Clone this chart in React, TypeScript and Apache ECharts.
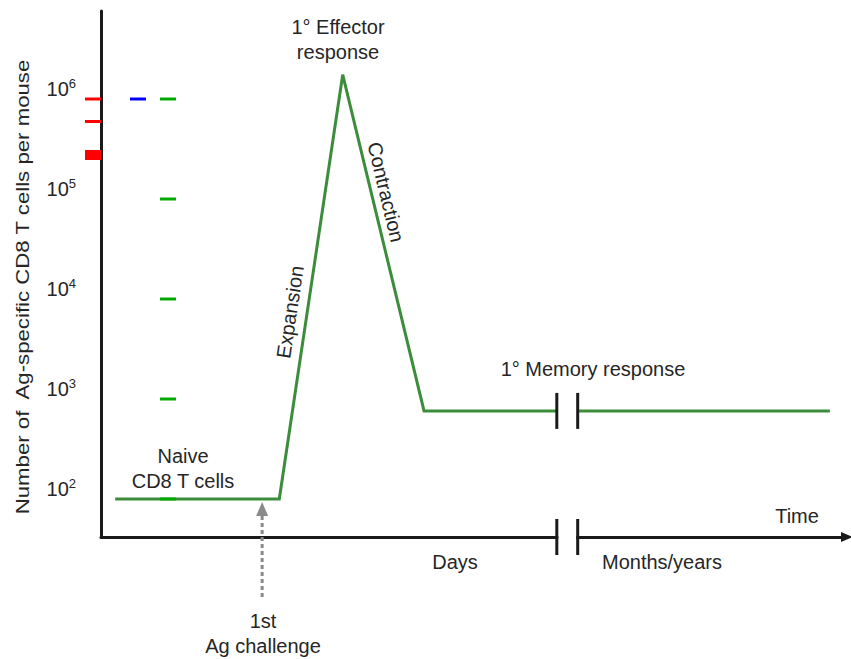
import React, { useEffect, useRef } from 'react';
import * as echarts from 'echarts';

// Time positions (arbitrary time units along the x axis)
const primaryTimes = [1.9, 23.9, 32.4, 43.3, 61.1];
const primaryCounts = [100, 100, 1.75e6, 760, 760];
const memoryTimes = [63.9, 97.7];
const memoryCounts = [760, 760];
const yTickExponents = [2, 3, 4, 5, 6];
const breakTimes = [61.1, 63.9];
const challengeTime = 21.6;
const memoryLevel = 760;

const FONT = "'Liberation Sans', Arial, Helvetica, sans-serif";
const TXT = '#262626';
const AX = '#1a1a1a';
const GREEN = '#3b8c3b';
const Y_MIN = 1.62;
const Y_MAX = 6.88;

export default function App() {
  const ref = useRef<HTMLDivElement>(null);
  useEffect(() => {
    if (!ref.current) return;
    const chart = echarts.init(ref.current, undefined, { renderer: 'svg' });
    const toData = (xs: number[], cs: number[]) => xs.map((x, i) => [x, Math.log10(cs[i])]);
    const px = (x: number, y: number) => chart.convertToPixel({ gridIndex: 0 }, [x, y]) as number[];
    const exps = [...yTickExponents];

    chart.setOption({
      animation: false,
      backgroundColor: '#ffffff',
      grid: { left: 101, right: 4, top: 11, bottom: 122 },
      xAxis: {
        type: 'value', min: 0, max: 100,
        axisLine: { show: true, onZero: false, symbol: ['none', 'triangle'], symbolSize: [10, 12], lineStyle: { color: AX, width: 3 } },
        axisTick: { show: false }, axisLabel: { show: false }, splitLine: { show: false },
      },
      yAxis: {
        type: 'value', min: Y_MIN, max: Y_MAX,
        axisLine: { show: true, lineStyle: { color: AX, width: 3 } },
        axisTick: { show: false },
        axisLabel: {
          customValues: [...yTickExponents], margin: 25, verticalAlign: 'bottom',
          formatter: (v: number) => `{b|10}{s|${v}}`,
          rich: {
            b: { fontSize: 20, fontFamily: FONT, color: TXT, lineHeight: 22, verticalAlign: 'bottom' },
            s: { fontSize: 13, fontFamily: FONT, color: TXT, verticalAlign: 'top', lineHeight: 14 },
          },
        },
        splitLine: { show: false },
      },
      series: [
        { type: 'line', data: toData(primaryTimes, primaryCounts), symbol: 'none', lineStyle: { color: GREEN, width: 3, join: 'miter' } },
        { type: 'line', data: toData(memoryTimes, memoryCounts), symbol: 'none', lineStyle: { color: GREEN, width: 3 } },
      ],
    });

    const [b1] = px(breakTimes[0], 2);
    const [b2] = px(breakTimes[1], 2);
    const memY = px(0, Math.log10(memoryLevel))[1];
    const axisY = px(0, Y_MIN)[1];
    const [cx] = px(challengeTime, 2);
    const naiveY = px(0, 2)[1];

    const txt = (text: string, x: number, y: number, size = 20, extra: any = {}) => ({
      type: 'text', x, y, z: 100,
      style: { text, fill: TXT, font: `${size}px ${FONT}`, align: 'center', verticalAlign: 'middle', lineHeight: 25, ...(extra.style || {}) },
      ...(extra.el || {}),
    });
    const bar = (x: number, y: number) => ({ type: 'line', z: 100, shape: { x1: x, y1: y - 18, x2: x, y2: y + 18 }, style: { stroke: AX, lineWidth: 3 } });

    const elements: any[] = [
      { type: 'rect', z: 99, shape: { x: b1 + 1.5, y: axisY - 6, width: b2 - b1 - 3, height: 12 }, style: { fill: '#ffffff' } },
      bar(b1, memY), bar(b2, memY), bar(b1, axisY), bar(b2, axisY),
      { type: 'line', z: 100, shape: { x1: cx, y1: 597, x2: cx, y2: naiveY + 16 }, style: { stroke: '#8a8a8a', lineWidth: 3, lineDash: [4, 3] } },
      { type: 'polygon', z: 100, shape: { points: [[cx, naiveY + 3], [cx - 6, naiveY + 17], [cx + 6, naiveY + 17]] }, style: { fill: '#8a8a8a' } },
      // diagnostics
      { type: 'rect', z: 100, shape: { x: 85, y: 97.5, width: 16, height: 3 }, style: { fill: '#ff0000' } },
      { type: 'rect', z: 100, shape: { x: 85, y: 120, width: 16, height: 3 }, style: { fill: '#ff0000' } },
      { type: 'rect', z: 100, shape: { x: 130, y: 97.5, width: 16, height: 3 }, style: { fill: '#0000ff' } },
      { type: 'rect', z: 100, shape: { x: 85, y: 150, width: 16, height: 10 }, style: { fill: '#ff0000' } },
    ];
    exps.forEach((e) => {
      const ty = px(0, e)[1];
      elements.push({ type: 'rect', z: 100, shape: { x: 160, y: ty - 1.5, width: 16, height: 3 }, style: { fill: '#00aa00' } });
    });
    elements.push(
      txt('Naive\nCD8 T cells', 183, 468),
      txt('1° Effector\nresponse', 338, 39),
      txt('1° Memory response', 593, 369),
      txt('Time', 797, 516),
      txt('Days', 455, 562),
      txt('Months/years', 662, 562),
      txt('1st\nAg challenge', 263, 633),
      txt('Expansion', 290, 312, 20, { el: { rotation: (81.5 * Math.PI) / 180 } }),
      txt('Contraction', 386, 192, 20, { el: { rotation: (-76.5 * Math.PI) / 180 } }),
      txt('Number of  Ag-specific CD8 T cells per mouse', 22, 287, 19, { el: { rotation: Math.PI / 2, scaleX: 1.17 } }),
    );

    chart.setOption({ graphic: elements });
    return () => chart.dispose();
  }, []);
  return <div ref={ref} style={{ width: 851, height: 659, position: 'absolute', left: 0, top: 0 }} />;
}
